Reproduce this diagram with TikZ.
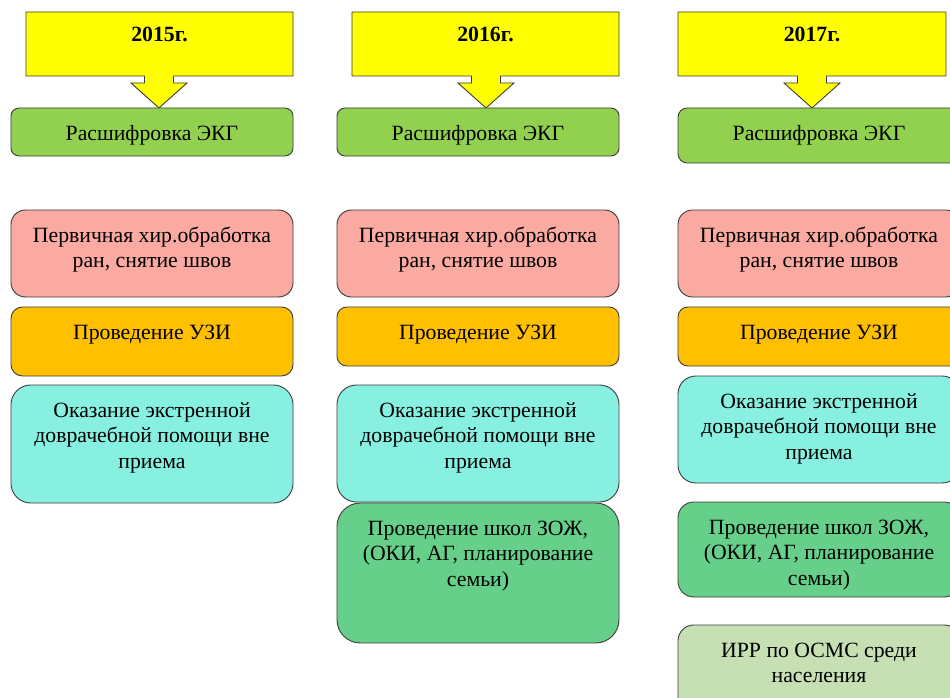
\documentclass[tikz,border=0pt]{standalone}
\usepackage{fontspec}
\setmainfont{Liberation Serif}
\definecolor{cYellow}{RGB}{255,255,0}
\definecolor{cGreen}{RGB}{146,208,80}
\definecolor{cPink}{RGB}{250,170,160}
\definecolor{cOrange}{RGB}{255,192,0}
\definecolor{cCyan}{RGB}{136,240,224}
\definecolor{cZoj}{RGB}{102,208,138}
\definecolor{cIrr}{RGB}{198,224,180}
\definecolor{cLine}{RGB}{60,60,60}
\tikzset{
  box/.style={draw=cLine, line width=0.9pt, inner sep=0pt, outer sep=0pt},
  txt/.style={align=center, inner sep=0pt, font=\fontsize{21.75}{25.5}\selectfont, text=black},
  yrtext/.style={inner sep=0pt, font=\fontsize{21.75}{25.5}\selectfont\bfseries, text=black},
  callout/.style={fill=cYellow, draw=cLine, line width=0.9pt, line join=miter}
}
\newcommand\tbox[7]{%
  \pgfmathsetmacro\bw{#4-#2}\pgfmathsetmacro\bh{#5-#3}\pgfmathsetmacro\br{min(\bw,\bh)/6}%
  \node[box, fill=#6, minimum width=\bw pt, minimum height=\bh pt, rounded corners=\br pt, anchor=north west] (#1) at (#2,#3) {};
  \node[txt, anchor=north] (#1t) at ([yshift=-14pt]#1.north) {\strut #7};
}
\newcommand\yrcall[5]{%
  \path[callout] (#2,12) -- (#3,12) -- (#3,76) -- ({#4+14.5},76) -- ({#4+14.5},83) -- ({#4+28},83)
    -- (#4,108) -- ({#4-28},83) -- ({#4-14.5},83) -- ({#4-14.5},76) -- (#2,76) -- cycle;
  \node[yrtext, anchor=base] (#1) at ({(#2+#3)/2},42) {#5};
}
\begin{document}
\begin{tikzpicture}[x=1pt,y=-1pt]
\useasboundingbox (0,0) rectangle (950,698);
\clip (0,0) rectangle (950,698);
\fill[white] (0,0) rectangle (950,698);
% column 2015
\yrcall{y1}{26}{293}{159}{2015г.}
\tbox{g1}{11}{108}{293}{156}{cGreen}{Расшифровка ЭКГ}
\tbox{p1}{11}{210}{293}{297}{cPink}{Первичная хир.обработка\\ран, снятие швов}
\tbox{o1}{11}{307}{293}{376}{cOrange}{Проведение УЗИ}
\tbox{c1}{11}{385}{293}{503}{cCyan}{Оказание экстренной\\доврачебной помощи вне\\приема}
% column 2016
\yrcall{y2}{352}{619}{486}{2016г.}
\tbox{g2}{337}{108}{619}{156}{cGreen}{Расшифровка ЭКГ}
\tbox{p2}{337}{210}{619}{297}{cPink}{Первичная хир.обработка\\ран, снятие швов}
\tbox{o2}{337}{307}{619}{366}{cOrange}{Проведение УЗИ}
\tbox{c2}{337}{385}{619}{502}{cCyan}{Оказание экстренной\\доврачебной помощи вне\\приема}
\tbox{z2}{337}{503}{619}{643}{cZoj}{Проведение школ ЗОЖ,\\(ОКИ, АГ, планирование\\семьи)}
% column 2017
\yrcall{y3}{678}{946}{812}{2017г.}
\tbox{g3}{678}{108}{960}{163}{cGreen}{Расшифровка ЭКГ}
\tbox{p3}{678}{210}{960}{297}{cPink}{Первичная хир.обработка\\ран, снятие швов}
\tbox{o3}{678}{307}{960}{366}{cOrange}{Проведение УЗИ}
\tbox{c3}{678}{376}{960}{483}{cCyan}{Оказание экстренной\\доврачебной помощи вне\\приема}
\tbox{z3}{678}{502}{960}{597}{cZoj}{Проведение школ ЗОЖ,\\(ОКИ, АГ, планирование\\семьи)}
\tbox{i3}{678}{625}{960}{720}{cIrr}{ИРР по ОСМС среди\\населения}
\end{tikzpicture}
\end{document}
